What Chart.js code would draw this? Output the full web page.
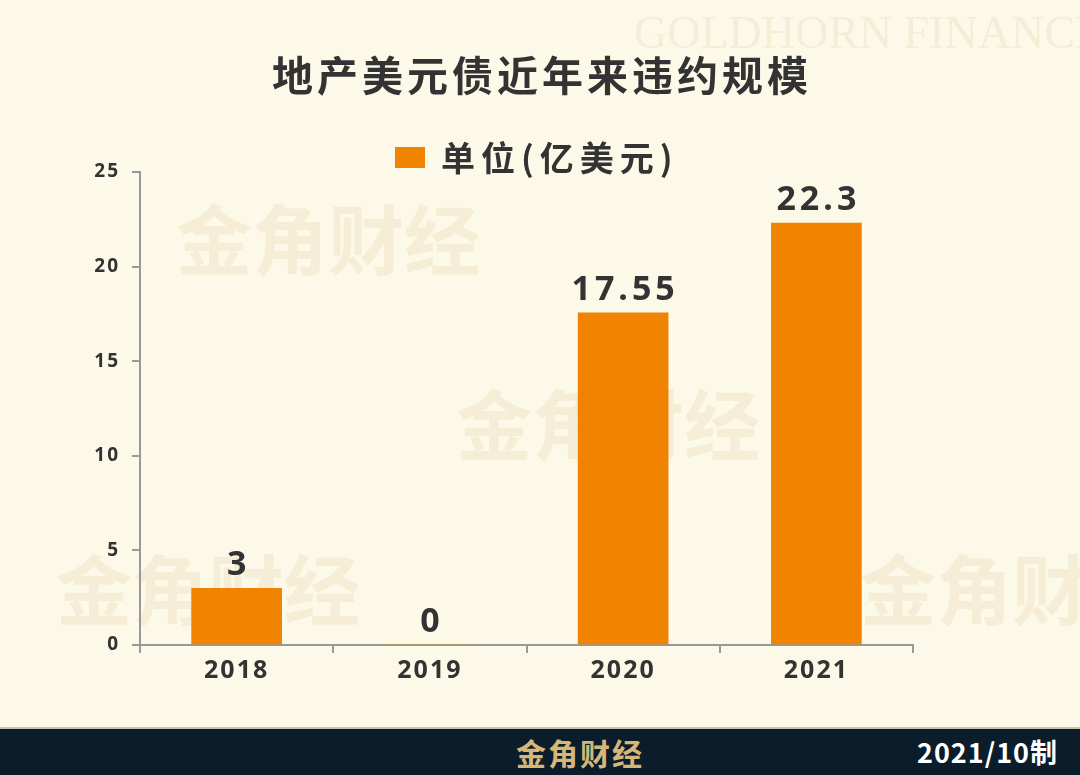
<!DOCTYPE html>
<html>
<head>
<meta charset="utf-8">
<script src="https://cdn.jsdelivr.net/npm/chart.js@4.4.0/dist/chart.umd.min.js"></script>
<style>
  html, body { margin: 0; padding: 0; background: #fdf9e9; }
  #wrap { width: 1080px; height: 775px; position: relative; overflow: hidden; }
  #chartBox { width: 1080px; height: 727px; position: relative; }
  #footer {
    position: absolute; left: 0; top: 727px; width: 1080px; height: 48px;
    background: #0b1d2a; border-top: 2px solid #c9c3ab; box-sizing: border-box;
  }
  #footer .brand {
    position: absolute; left: 516px; top: 3px; height: 40px;
    font: 700 30px/40px "Noto Sans CJK SC";
    color: #d6b77a; letter-spacing: 2px;
  }
  #footer .date {
    position: absolute; right: 22px; top: 4px; height: 38px;
    font: 700 27px/38px "Noto Sans CJK SC";
    color: #ffffff; letter-spacing: 1px;
  }
</style>
</head>
<body>
<div id="wrap">
  <div id="chartBox"><canvas id="BarChartCanvas" width="1080" height="727"></canvas></div>
  <div id="footer"><span class="brand">金角财经</span><span class="date">2021/10制</span></div>
</div>
<script>
const chartTitle = '地产美元债近年来违约规模';
const seriesName = '单位(亿美元)';
const years = ['2018', '2019', '2020', '2021'];
const defaultAmounts = [3, 0, 17.55, 22.3];
const yTicks = [0, 5, 10, 15, 20, 25];

const BAR_COLOR = '#f08300';
const TEXT_COLOR = '#333333';
const AXIS_COLOR = '#999999';
const NUM_FONT = '"Noto Sans", "DejaVu Sans", sans-serif';
const CJK_FONT = '"Noto Sans CJK SC", sans-serif';
const BASE_SPACING = '2px';

/**
 * background, faint brand marks, and the wide letter spacing the axis text uses
 */
const watermarkPlugin = {
  id: 'watermark',
  beforeLayout(chart) {
    chart.ctx.letterSpacing = BASE_SPACING;
  },
  beforeDraw(chart) {
    const { ctx } = chart;
    ctx.letterSpacing = '0px';
    ctx.fillStyle = '#fdf9e9';
    ctx.fillRect(0, 0, chart.width, chart.height);
    ctx.fillStyle = 'rgba(222, 200, 150, 0.24)';
    ctx.textBaseline = 'middle';
    ctx.textAlign = 'left';
    ctx.font = '400 46px "Liberation Serif", serif';
    ctx.fillText('GOLDHORN FINANCE', 634, 36);

    ctx.font = '700 76px ' + CJK_FONT;
    [[176, 240], [456, 425], [56, 590], [860, 590]].forEach(([x, y]) => {
      ctx.fillText('金角财经', x, y);
    });

    /**
     * title and series key, drawn here so they can keep the loose spacing of the original
     */
    ctx.fillStyle = TEXT_COLOR;
    ctx.textAlign = 'center';
    ctx.font = '700 41px ' + CJK_FONT;
    ctx.letterSpacing = '4px';
    ctx.fillText(chartTitle, 542, 75);

    const dataset = chart.data.datasets[0];
    ctx.fillStyle = dataset.backgroundColor;
    ctx.fillRect(395, 147, 30, 21);
    ctx.fillStyle = TEXT_COLOR;
    ctx.textAlign = 'left';
    ctx.font = '700 34px ' + CJK_FONT;
    ctx.letterSpacing = '6px';
    ctx.fillText(dataset.label, 441, 158);

    ctx.letterSpacing = BASE_SPACING;
  },
};

/**
 * value text above each bar
 */
const valueLabelPlugin = {
  id: 'valueLabels',
  afterDatasetsDraw(chart) {
    const { ctx } = chart;
    const meta = chart.getDatasetMeta(0);
    ctx.save();
    ctx.font = '700 34px ' + NUM_FONT;
    ctx.fillStyle = TEXT_COLOR;
    ctx.textAlign = 'center';
    ctx.textBaseline = 'bottom';
    ctx.letterSpacing = '4px';
    meta.data.forEach((bar, i) => {
      ctx.fillText(String(defaultAmounts[i]), bar.x + 2, bar.y - 6);
    });
    ctx.restore();
  },
};

const ctx = document.getElementById('BarChartCanvas').getContext('2d');

window.BarChartRef = new Chart(ctx, {
  type: 'bar',
  data: {
    labels: years,
    datasets: [
      {
        label: seriesName,
        data: defaultAmounts,
        backgroundColor: BAR_COLOR,
        borderWidth: 0,
        barThickness: 90,
      },
    ],
  },
  options: {
    responsive: false,
    animation: false,
    devicePixelRatio: 1,
    layout: { padding: { left: 0, right: 167, top: 172, bottom: 0 } },
    plugins: {
      title: { display: false },
      legend: { display: false },
      tooltip: { enabled: false },
    },
    scales: {
      x: {
        afterFit(scale) {
          scale.height = 82;
        },
        border: { color: AXIS_COLOR, width: 2 },
        grid: {
          offset: true,
          drawOnChartArea: false,
          drawTicks: true,
          tickLength: 8,
          color: AXIS_COLOR,
          lineWidth: 2,
        },
        ticks: {
          color: TEXT_COLOR,
          font: { family: NUM_FONT, size: 25, weight: '700' },
          padding: 3,
        },
      },
      y: {
        min: 0,
        max: 25,
        afterFit(scale) {
          scale.width = 140;
        },
        afterBuildTicks(scale) {
          scale.ticks = yTicks.map(value => ({ value }));
        },
        border: { color: AXIS_COLOR, width: 2 },
        grid: {
          drawOnChartArea: false,
          drawTicks: true,
          tickLength: 8,
          color: AXIS_COLOR,
          lineWidth: 2,
        },
        ticks: {
          color: TEXT_COLOR,
          font: { family: NUM_FONT, size: 19, weight: '700' },
          padding: 12,
        },
      },
    },
  },
  plugins: [watermarkPlugin, valueLabelPlugin],
});
</script>
</body>
</html>
